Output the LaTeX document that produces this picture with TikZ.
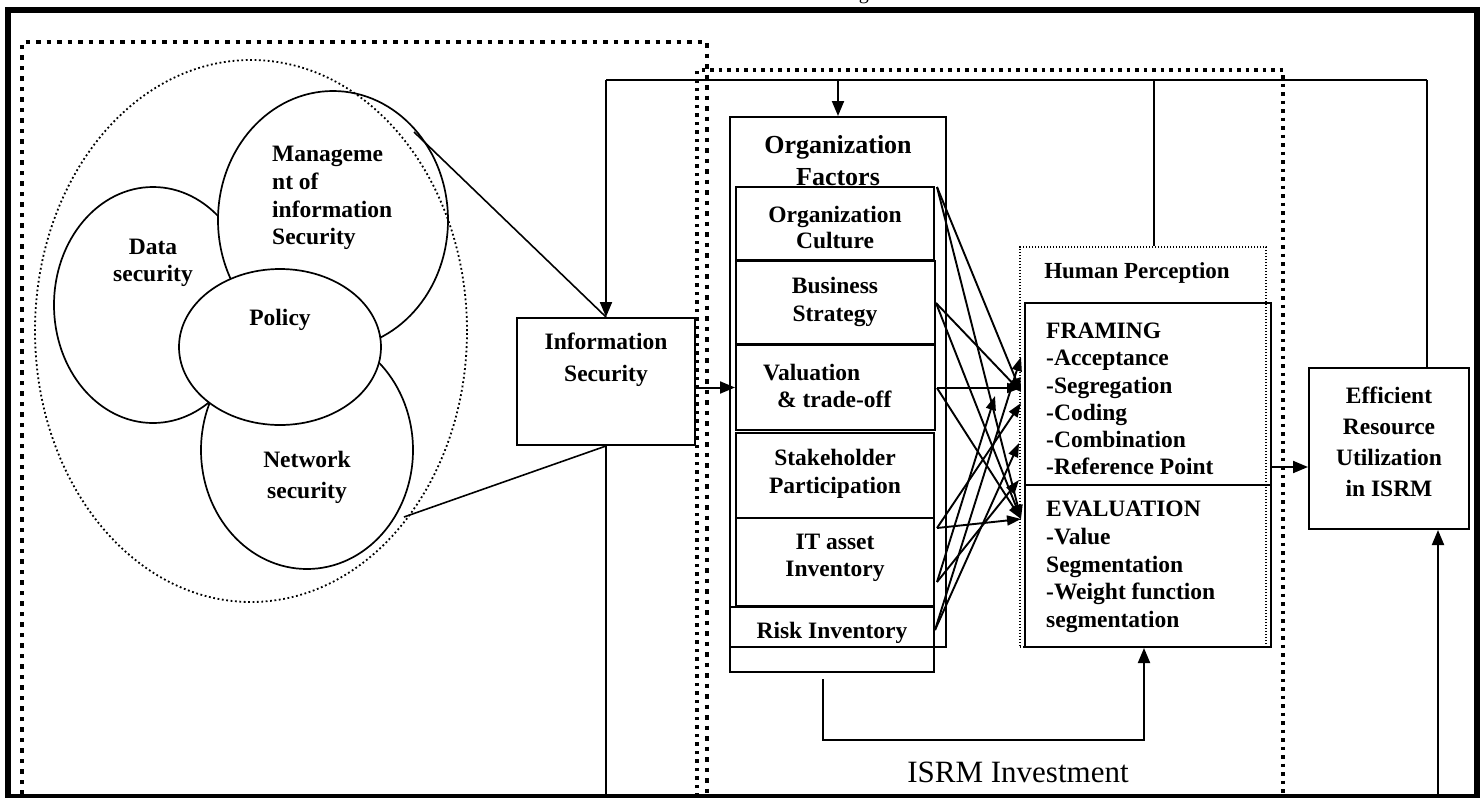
\documentclass[tikz,border=0pt]{standalone}
\usepackage{fontspec}
\setmainfont{Liberation Serif}
\usetikzlibrary{arrows.meta,shapes.geometric}
\begin{document}
\begin{tikzpicture}[x=1pt,y=-1pt,
  box/.style={draw, line width=2pt, inner sep=0pt, rectangle},
  dotbox/.style={draw, line width=1.3pt, dash pattern=on 1.3pt off 1.7pt, inner sep=0pt, rectangle},
  txt/.style={inner sep=0pt, align=center, font=\fontsize{23.5}{27.5}\selectfont\bfseries},
  ltxt/.style={inner sep=0pt, align=left, anchor=west, font=\fontsize{23.5}{27.5}\selectfont\bfseries},
  con/.style={line width=1.6pt},
  arr/.style={line width=2pt, -{Triangle[length=15pt,width=12pt]}},
  xarr/.style={line width=1.9pt, -{Triangle[length=14pt,width=10pt]}},
  ell/.style={ellipse, draw, line width=1.7pt, fill=white, inner sep=0pt},
  bigdot/.style={line width=4.5pt, dash pattern=on 4.5pt off 6pt},
  meddot/.style={line width=3.5pt, dash pattern=on 3.5pt off 5pt},
  finedot/.style={line width=1.8pt, dash pattern=on 1.8pt off 2.6pt},
]
\useasboundingbox (0,0) rectangle (1484,798);
% caption fragment
\node[font=\fontsize{20}{24}\selectfont, anchor=base west, inner sep=0pt] (cap) at (842,-1) {Figure};
% frame
\draw[line width=6pt] (8,10) rectangle (1477,797);
% dotted regions
\draw[bigdot] (22,805) -- (22,42) -- (707,42) -- (707,805);
\draw[meddot] (697,805) -- (697,70) -- (1283,70) -- (1283,805);

% ellipses
\node[ell, minimum width=198pt, minimum height=236pt] (data) at (153,305) {};
\node[ell, minimum width=230pt, minimum height=258pt] (mgmt) at (333,220) {};
\node[ell, minimum width=212pt, minimum height=238pt] (network) at (307,450) {};
\node[ell, minimum width=202pt, minimum height=156pt] (policy) at (280,347) {};
\node[ellipse, finedot, draw, minimum width=432pt, minimum height=542pt, inner sep=0pt] (outer) at (251,331) {};
\node[txt] (datat) at (153,263) {Data\\security};
\node[ltxt, font=\fontsize{23.5}{27.7}\selectfont\bfseries] (mgmtt) at (272,198) {Manageme\\nt of\\information\\Security};
\node[txt] (policyt) at (280,320) {Policy};
\node[txt, font=\fontsize{23.5}{31}\selectfont\bfseries] (networkt) at (307,477) {Network\\security};

% information security
\node[box, minimum width=178pt, minimum height=127pt] (info) at (606,381.5) {};
\node[txt, font=\fontsize{23.5}{32}\selectfont\bfseries] (infot) at (606,360) {Information\\Security};

% organization factors
\node[box, minimum width=216pt, minimum height=530pt] (orgbox) at (838,382) {};
\node[txt, font=\fontsize{26}{32}\selectfont\bfseries] (orgt) at (838,161) {Organization\\Factors};
\node[box, minimum width=198pt, minimum height=73pt] (culture) at (835,223.5) {};
\node[box, minimum width=199pt, minimum height=83pt] (strategy) at (835.5,302.5) {};
\node[box, minimum width=199pt, minimum height=85pt] (valuation) at (835.5,387.5) {};
\node[box, minimum width=198pt, minimum height=85pt] (stake) at (835,475.5) {};
\node[box, minimum width=198pt, minimum height=88pt] (itasset) at (835,562) {};
\node[box, minimum width=204pt, minimum height=65pt] (risk) at (832,639.5) {};
\node[txt, font=\fontsize{23.5}{26}\selectfont\bfseries] (culturet) at (835,227) {Organization\\Culture};
\node[txt] (strategyt) at (835,302) {Business\\Strategy};
\node[ltxt] (valuationt) at (763,386) {Valuation\\\hspace*{14pt}\& trade-off};
\node[txt] (staket) at (835,474) {Stakeholder\\Participation};
\node[txt] (itassett) at (835,558) {IT asset\\Inventory};
\node[txt] (riskt) at (832,633) {Risk Inventory};

% human perception
\node[dotbox, minimum width=246pt, minimum height=400pt] (humanp) at (1143,447) {};
\node[txt, font=\fontsize{23}{27}\selectfont\bfseries] (humanpt) at (1137,273) {Human Perception};
\node[box, minimum width=246pt, minimum height=182pt] (framing) at (1148,394) {};
\node[box, minimum width=246pt, minimum height=162pt] (evaluation) at (1148,566) {};
\node[ltxt, font=\fontsize{23.5}{27.3}\selectfont\bfseries] (framingt) at (1046,399) {FRAMING\\-Acceptance\\-Segregation\\-Coding\\-Combination\\-Reference Point};
\node[ltxt, font=\fontsize{23.5}{27.8}\selectfont\bfseries] (evalt) at (1046,567) {EVALUATION\\-Value\\Segmentation\\-Weight function\\segmentation};

% efficient
\node[box, minimum width=160pt, minimum height=161pt] (efficient) at (1389,448.5) {};
\node[txt, font=\fontsize{23.5}{31}\selectfont\bfseries] (efficientt) at (1389,442) {Efficient\\Resource\\Utilization\\in ISRM};

\node[inner sep=0pt, font=\fontsize{31}{36}\selectfont] (invest) at (1018,772) {ISRM Investment};

% coordinates
\coordinate (fbL) at (606,80);
\coordinate (fbR) at (1427,80);
\coordinate (hptop) at (1154,80);
\coordinate (m1) at (414,132);
\coordinate (n1) at (404,517);
\coordinate (bot1) at (606,805);
\coordinate (bot2) at (1438,805);
\coordinate (fr) at (1271,467);
\coordinate (l1) at (823,679);
\coordinate (l2) at (1144,740);

% feedback connections
\draw[con] (fbL) -- (fbR);
\draw[arr] (fbL) -- (info.north);
\draw[arr] (orgbox.north |- fbL) -- (orgbox.north);
\draw[con] (hptop) -- (hptop |- humanp.north);
\draw[con] (fbR) -- (fbR |- efficient.north);
\draw[con] (m1) -- (info.north);
\draw[con] (n1) -- (info.south);
\draw[con] (info.south) -- (bot1);
\draw[arr] (info.east |- valuation.west) -- (valuation.west);
\draw[arr] (fr) -- (fr -| efficient.west);
\draw[arr] (bot2) -- (bot2 |- efficient.south);
\draw[arr] (l1) |- (l2) -- (l2 |- evaluation.south);

% crossing arrows
\coordinate (s1) at (937,187);
\coordinate (s2) at (936,303);
\coordinate (s3) at (937,388);
\coordinate (s4) at (937,528);
\coordinate (s5) at (937,582);
\coordinate (s6) at (935,630);
\coordinate (t1) at (1021,357);
\coordinate (t2) at (1021,392);
\coordinate (t3) at (1021,403);
\coordinate (t4) at (1019,443);
\coordinate (t5) at (1019,480);
\coordinate (t6) at (1021,519);
\coordinate (t7) at (995,396);
\draw[xarr] (s1) -- (t2);
\draw[xarr] (s1) -- (t6);
\draw[xarr] (s2) -- (t2);
\draw[xarr] (s2) -- (t6);
\draw[xarr] (s3) -- (s3 -| t2);
\draw[xarr] (s3) -- (t6);
\draw[xarr] (s4) -- (t6);
\draw[xarr] (s4) -- (t3);
\draw[xarr] (s5) -- (t7);
\draw[xarr] (s5) -- (t5);
\draw[xarr] (s6) -- (t1);
\draw[xarr] (s6) -- (t4);
\end{tikzpicture}
\end{document}
